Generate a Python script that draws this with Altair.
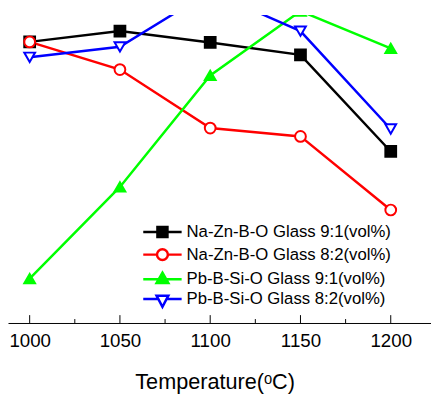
import altair as alt
import pandas as pd

temps = [1000, 1050, 1100, 1150, 1200]
series = [
    "Na-Zn-B-O Glass 9:1(vol%)",
    "Na-Zn-B-O Glass 8:2(vol%)",
    "Pb-B-Si-O Glass 9:1(vol%)",
    "Pb-B-Si-O Glass 8:2(vol%)",
]
na_91 = [91.3, 94.8, 91.1, 87.1, 55.7]
na_82 = [91.3, 82.3, 63.3, 60.6, 36.7]
pb_91 = [14.4, 44.2, 80.4, 101.3, 89.2]
pb_82 = [86.3, 89.7, 107.7, 94.8, 63.0]
major_ticks = [1000, 1050, 1100, 1150, 1200]
minor_ticks = [1025, 1075, 1125, 1175]

colors = ["#000000", "#ff0000", "#00ff00", "#0000ff"]
fills = ["#000000", "#ffffff", "#00ff00", "#ffffff"]
shapes = ["square", "circle", "triangle-up", "triangle-down"]
# legend symbols: 1 unit = 6 px (symbolSize 144)
legend_paths = [
    "M-3.25,0H3.25M-0.85,-0.85H0.85V0.85H-0.85Z",
    "M-3.25,0H-0.92M0.92,0H3.25M0.92,0A0.92,0.92 0 1,1 -0.92,0A0.92,0.92 0 1,1 0.92,0Z",
    "M-3.25,0H3.25M0,-1.1L1.0,0.65L-1.0,0.65Z",
    "M-3.25,0H-0.72M0.72,0H3.25M-1.0,-0.55L1.0,-0.55L0,1.35Z",
]

rows = []
for s, vals in zip(series, [na_91, na_82, pb_91, pb_82]):
    for t, v in zip(temps, vals):
        rows.append({"temp": t, "value": v, "series": s})
df = pd.DataFrame(rows)

W, H = 430, 313
FONT = "Liberation Sans"

xscale = alt.Scale(domain=[988, 1222.3], nice=False, zero=False)
yscale = alt.Scale(domain=[0, 100], nice=False, zero=False)

x_axis = alt.Axis(
    values=major_ticks,
    format="d",
    ticks=False,
    tickSize=0,
    grid=False,
    domainColor="#000000",
    domainWidth=1,
    labelFont=FONT,
    labelFontSize=19,
    labelColor="#000000",
    labelPadding=9,
    title="Temperature(ᵒC)",
    titleFont=FONT,
    titleFontSize=22,
    titleFontWeight="normal",
    titleColor="#000000",
    titlePadding=22,
    titleX=210,
)
x_enc = alt.X("temp:Q", scale=xscale, axis=x_axis)
y_enc = alt.Y("value:Q", scale=yscale, axis=None)

base = alt.Chart(df)

lines = base.mark_line(strokeWidth=2.5, clip=True).encode(
    x=x_enc,
    y=y_enc,
    color=alt.Color("series:N", scale=alt.Scale(domain=series, range=colors), legend=None),
    detail="series:N",
)

points = base.mark_point(opacity=1, strokeWidth=2, clip=True).encode(
    x=x_enc,
    y=y_enc,
    stroke=alt.Stroke("series:N", scale=alt.Scale(domain=series, range=colors), legend=None),
    fill=alt.Fill("series:N", scale=alt.Scale(domain=series, range=fills), legend=None),
    shape=alt.Shape("series:N", scale=alt.Scale(domain=series, range=shapes), legend=None),
    size=alt.value(120),
)

major_df = pd.DataFrame({"temp": major_ticks})
minor_df = pd.DataFrame({"temp": minor_ticks})
major = alt.Chart(major_df).mark_rule(color="#000000", strokeWidth=1).encode(
    x=x_enc, y=alt.value(H - 8), y2=alt.value(H)
)
minor = alt.Chart(minor_df).mark_rule(color="#000000", strokeWidth=1).encode(
    x=x_enc, y=alt.value(H - 4), y2=alt.value(H)
)

legend_layer = base.transform_filter("datum.temp < 0").mark_point(
    opacity=1, strokeWidth=2.5
).encode(
    stroke=alt.Stroke(
        "series:N",
        scale=alt.Scale(domain=series, range=colors),
        legend=alt.Legend(
            title=None,
            orient="none",
            legendX=148.5,
            legendY=212,
            symbolSize=144,
            symbolStrokeWidth=2.5,
            labelFont=FONT,
            labelFontSize=17,
            labelColor="#000000",
            labelOffset=16,
            labelLimit=400,
            rowPadding=1,
            padding=0,
        ),
    ),
    fill=alt.Fill("series:N", scale=alt.Scale(domain=series, range=fills)),
    shape=alt.Shape("series:N", scale=alt.Scale(domain=series, range=legend_paths)),
)

chart = (
    alt.layer(lines, minor, major, points, legend_layer)
    .resolve_scale(color="independent", stroke="independent", fill="independent", shape="independent")
    .properties(
        width=W,
        height=H,
        padding={"left": 0, "top": 4, "right": 0, "bottom": 0},
        background="#ffffff",
    )
    .configure_view(strokeWidth=0)
)

chart.save("out.html", embed_options={"renderer": "svg", "actions": False})
